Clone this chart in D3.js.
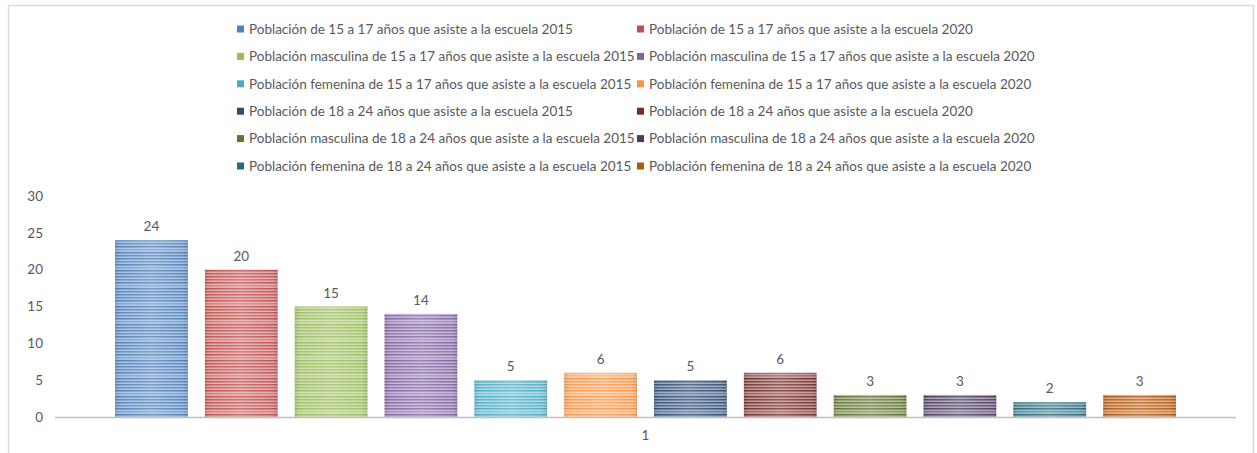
<!DOCTYPE html>
<html>
<head>
<meta charset="utf-8">
<script src="https://cdn.jsdelivr.net/npm/d3@7"></script>
<style>
  body { margin: 0; background: #fff; }
  svg text { font-family: Lato, "Liberation Sans", sans-serif; fill: #595959; }
</style>
</head>
<body>
<svg id="chart" width="1257" height="453"></svg>
<script>
// chart data
const categories = ["1"];
const seriesNames = [
  "Población de 15 a 17 años que asiste a la escuela 2015",
  "Población de 15 a 17 años que asiste a la escuela 2020",
  "Población masculina de 15 a 17 años que asiste a la escuela 2015",
  "Población masculina de 15 a 17 años que asiste a la escuela 2020",
  "Población femenina de 15 a 17 años que asiste a la escuela 2015",
  "Población femenina de 15 a 17 años que asiste a la escuela 2020",
  "Población de 18 a 24 años que asiste a la escuela 2015",
  "Población de 18 a 24 años que asiste a la escuela 2020",
  "Población masculina de 18 a 24 años que asiste a la escuela 2015",
  "Población masculina de 18 a 24 años que asiste a la escuela 2020",
  "Población femenina de 18 a 24 años que asiste a la escuela 2015",
  "Población femenina de 18 a 24 años que asiste a la escuela 2020"
];
const seriesValues = [24, 20, 15, 14, 5, 6, 5, 6, 3, 3, 2, 3];
const seriesColors = ["#4F81BD", "#C0504D", "#9BBB59", "#8064A2", "#4BACC6", "#F79646",
                      "#2C4D75", "#772C2A", "#5F7530", "#4D3B62", "#276A7C", "#B65708"];
const yTicks = [0, 5, 10, 15, 20, 25, 30];

const svg = d3.select("#chart");
const W = 1257, H = 453;

// outer frame
svg.append("rect")
  .attr("x", 8.5).attr("y", 5.5)
  .attr("width", W - 12).attr("height", H - 4)
  .attr("fill", "#fff").attr("stroke", "#d9d9d9").attr("stroke-width", 1.5);

// striped fills, one per series
const defs = svg.append("defs");
const shine = defs.append("linearGradient").attr("id", "shine")
  .attr("x1", "0").attr("x2", "1").attr("y1", "0").attr("y2", "0");
shine.append("stop").attr("offset", "0").attr("stop-color", "#000").attr("stop-opacity", 0.1);
shine.append("stop").attr("offset", "0.08").attr("stop-color", "#fff").attr("stop-opacity", 0.05);
shine.append("stop").attr("offset", "0.5").attr("stop-color", "#fff").attr("stop-opacity", 0.2);
shine.append("stop").attr("offset", "0.92").attr("stop-color", "#fff").attr("stop-opacity", 0.05);
shine.append("stop").attr("offset", "1").attr("stop-color", "#000").attr("stop-opacity", 0.1);

const stripeOps = [1, 0.55, 0.9, 0.3, 0.95, 0.5, 0.8, 0.25, 1, 0.6, 0.45, 0.85];
seriesColors.forEach((c, i) => {
  const p = defs.append("pattern").attr("id", "stripe" + i)
    .attr("patternUnits", "userSpaceOnUse")
    .attr("width", 8).attr("height", stripeOps.length * 1.5);
  p.append("rect").attr("width", 8).attr("height", stripeOps.length * 1.5)
    .attr("fill", d3.interpolateRgb(c, "#fff")(0.5));
  stripeOps.forEach((o, k) => {
    if (k % 2 === 0) {
      p.append("rect").attr("y", k * 1.5).attr("width", 8).attr("height", 1.5)
        .attr("fill", c).attr("opacity", o);
    }
  });
});

// scales
const y = d3.scaleLinear().domain([0, 30]).range([417, 196]);
const x0 = d3.scaleBand().domain(categories).range([55, 1236]).paddingOuter(0.0478);
const x1 = d3.scaleBand().domain(d3.range(seriesNames.length))
  .range([0, x0.bandwidth()]).paddingInner(0.19).paddingOuter(0.095);

// y axis labels (no axis line)
const yAxis = svg.append("g").attr("transform", "translate(43,0)")
  .call(d3.axisLeft(y).tickValues(yTicks).tickSize(0).tickPadding(0));
yAxis.select(".domain").remove();
yAxis.selectAll("text").style("font-size", "13.5px").attr("fill", "#595959");

// bars
const g = svg.append("g").attr("transform", `translate(${x0(categories[0])},0)`);
const bars = g.selectAll("g.bar").data(seriesValues).join("g").attr("class", "bar");
bars.append("rect")
  .attr("x", (d, i) => x1(i))
  .attr("y", d => y(d))
  .attr("width", x1.bandwidth())
  .attr("height", d => y(0) - y(d))
  .attr("fill", (d, i) => `url(#stripe${i})`);
bars.append("rect")
  .attr("x", (d, i) => x1(i))
  .attr("y", d => y(d))
  .attr("width", x1.bandwidth())
  .attr("height", d => y(0) - y(d))
  .attr("fill", "url(#shine)");
bars.append("text")
  .attr("x", (d, i) => x1(i) + x1.bandwidth() / 2)
  .attr("y", d => y(d) - 9)
  .attr("text-anchor", "middle")
  .style("font-size", "13.5px")
  .text(d => d);

// baseline + category label
svg.append("line")
  .attr("x1", 55).attr("x2", 1236)
  .attr("y1", y(0) + 0.5).attr("y2", y(0) + 0.5)
  .attr("stroke", "#bfbfbf").attr("stroke-width", 1.5);
const xAxis = svg.append("g").attr("transform", `translate(0,${y(0)})`)
  .call(d3.axisBottom(x0).tickSize(0).tickPadding(13));
xAxis.select(".domain").remove();
xAxis.selectAll("text").style("font-size", "13.5px").attr("fill", "#595959");

// legend: two columns
const legCol = [237, 637];
const legRow = d3.scaleLinear().domain([0, 5]).range([29, 166]);
const leg = svg.append("g").selectAll("g").data(seriesNames).join("g")
  .attr("transform", (d, i) => `translate(${legCol[i % 2]},${legRow(Math.floor(i / 2))})`);
leg.append("rect")
  .attr("x", 0).attr("y", -3.5).attr("width", 7).attr("height", 7)
  .attr("fill", (d, i) => seriesColors[i]);
leg.append("text")
  .attr("x", 12).attr("y", 4.7)
  .style("font-size", "13.5px")
  .text(d => d);
</script>
</body>
</html>
